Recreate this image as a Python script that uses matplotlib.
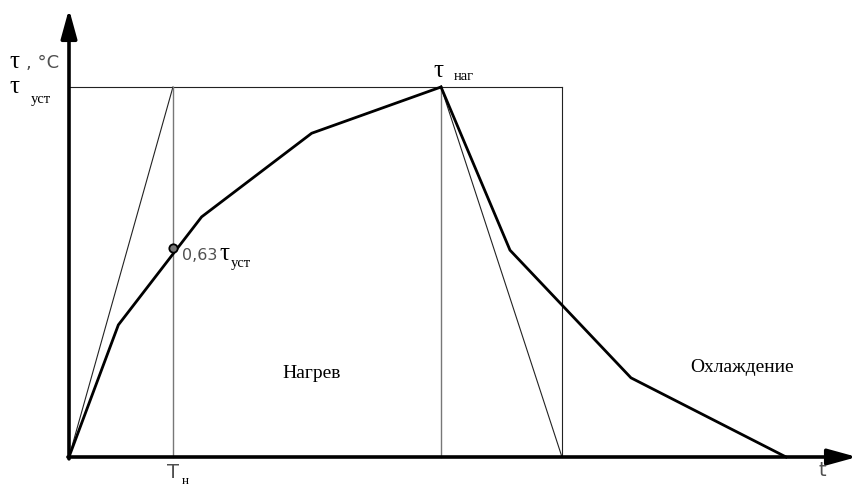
import matplotlib.pyplot as plt
import numpy as np

# Heating curve (time in units of T_n, temperature in units of tau_ust)
heat_t = [0.0, 0.470, 1.263, 2.311, 3.543]
heat_y = [0.0, 0.357, 0.649, 0.875, 1.0]

# Cooling curve
cool_t = [3.543, 4.200, 5.352, 6.829]
cool_y = [1.0, 0.559, 0.214, 0.0]

# Key time points
t_n = 0.99         # heating time constant
t_nag = 3.543      # end of heating
t_cool = 4.695     # cooling tangent hits zero
t_box = 4.695      # right edge of the rectangle
point_y = 0.565    # marked point on heating curve

X0, Y0, SX, SY = 69, 457, 105, 370


def px(x, y):
    # pixel position in the picture -> data coords
    return (x - X0) / SX, (Y0 - y) / SY


fig = plt.figure(figsize=(8.59, 4.88), dpi=100)
ax = fig.add_axes([0, 0, 1, 1])
ax.set_xlim(-X0 / SX, (859 - X0) / SX)
ax.set_ylim((Y0 - 488) / SY, Y0 / SY)
ax.axis('off')

thin = dict(color='#222222', linewidth=0.8)
grey = dict(color='#777777', linewidth=1.0)

# Construction lines
ax.plot([0, t_box], [1, 1], **thin)
ax.plot([0, t_n], [0, 1], **thin)
ax.plot([t_n, t_n], [0, 1], **grey)
ax.plot([t_nag, t_nag], [0, 1], **grey)
ax.plot([t_box, t_box], [0, 1], **thin)
ax.plot([t_nag, t_cool], [1, 0], **thin)

# Curves
ax.plot(heat_t, heat_y, color='black', linewidth=2.0, solid_joinstyle='miter')
ax.plot(cool_t, cool_y, color='black', linewidth=2.0, solid_joinstyle='miter')

# Marked point
ax.plot([t_n], [point_y], marker='o', markersize=6, markerfacecolor='#777777',
        markeredgecolor='black', markeredgewidth=1.3, zorder=5)

# Axes with arrows
ax.annotate('', xy=px(69, 9), xytext=(0, -0.005),
            arrowprops=dict(arrowstyle='-|>,head_length=0.8,head_width=0.22',
                            lw=2.6, color='black', mutation_scale=22,
                            shrinkA=0, shrinkB=0))
ax.annotate('', xy=px(857, 457), xytext=(-0.01, 0),
            arrowprops=dict(arrowstyle='-|>,head_length=0.8,head_width=0.22',
                            lw=2.6, color='black', mutation_scale=22,
                            shrinkA=0, shrinkB=0))

sans = dict(family='DejaVu Sans', color='#505050')
serif = dict(family='Liberation Serif', color='black')

# Y-axis labels
ax.text(*px(14, 62), 'τ', fontsize=18, ha='center', va='center', **serif)
ax.text(*px(43, 63), ', °C', fontsize=13, ha='center', va='center', **sans)
ax.text(*px(14, 87), 'τ', fontsize=18, ha='center', va='center', **serif)
ax.text(*px(41, 100), 'уст', fontsize=10.5, ha='center', va='center', **serif)

# tau_nag label
ax.text(*px(438, 71), 'τ', fontsize=18, ha='center', va='center', **serif)
ax.text(*px(464, 76), 'наг', fontsize=10.5, ha='center', va='center', **serif)

# 0,63 label
ax.text(*px(182, 256), '0,63', fontsize=11.5, ha='left', va='center', **sans)
ax.text(*px(219, 254), 'τ', fontsize=18, ha='left', va='center', **serif)
ax.text(*px(231, 263), 'уст', fontsize=10.5, ha='left', va='center', **serif)

# Time axis labels
ax.text(*px(173, 472), 'Т', fontsize=14, ha='center', va='center', **sans)
ax.text(*px(185, 481), 'н', fontsize=9.5, ha='center', va='center', **serif)
ax.text(*px(822, 470), 't', fontsize=14, ha='center', va='center', **sans)

# Region labels
ax.text(*px(312, 373), 'Нагрев', fontsize=14, ha='center', va='center', **serif)
ax.text(*px(742, 367), 'Охлаждение', fontsize=14, ha='center', va='center',
        **serif)

fig.savefig('out.png', dpi=100, facecolor='white')
